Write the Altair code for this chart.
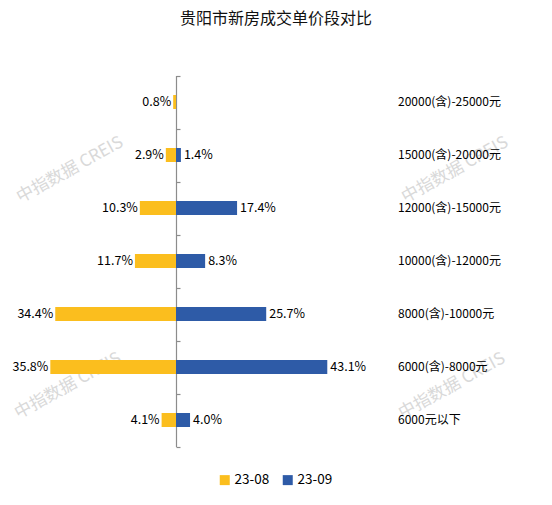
import altair as alt
import pandas as pd

title_text = "贵阳市新房成交单价段对比"
categories = ["20000(含)-25000元", "15000(含)-20000元", "12000(含)-15000元",
              "10000(含)-12000元", "8000(含)-10000元", "6000(含)-8000元", "6000元以下"]
series_names = ["23-08", "23-09"]
aug_values = [0.8, 2.9, 10.3, 11.7, 34.4, 35.8, 4.1]
sep_values = [None, 1.4, 17.4, 8.3, 25.7, 43.1, 4.0]
colors = ["#FBBE1E", "#2E5BA7"]
watermark = "中指数据 CREIS"

rows = []
for c, a, s in zip(categories, aug_values, sep_values):
    if a is not None:
        rows.append({"cat": c, "series": "23-08", "v": a, "x": -a, "label": f"{a:.1f}%"})
    if s is not None:
        rows.append({"cat": c, "series": "23-09", "v": s, "x": s, "label": f"{s:.1f}%"})
df = pd.DataFrame(rows)
cat_df = pd.DataFrame({"cat": categories})

W, H = 536, 489
FONT = "Noto Sans CJK SC"

xscale = alt.Scale(domain=[-47.86, 104.84], nice=False, zero=False)
yscale = alt.Scale(domain=categories, range=[67.5, 438.5], paddingInner=0, paddingOuter=0)

base = alt.Chart(df)

bars = base.mark_bar(size=14).encode(
    x=alt.X("x:Q", scale=xscale, axis=None),
    y=alt.Y("cat:N", scale=yscale, sort=categories,
            axis=alt.Axis(orient="right", offset=-368, labels=False, title="",
                          ticks=True, tickBand="extent", tickSize=4,
                          domainColor="#8c8c8c", tickColor="#8c8c8c",
                          domainWidth=1.2, tickWidth=1.2, grid=False)),
    color=alt.Color("series:N", scale=alt.Scale(domain=series_names, range=colors),
                    title=None,
                    legend=alt.Legend(orient="none", legendX=210, legendY=465,
                                      direction="horizontal", symbolType="square",
                                      symbolSize=100, symbolStrokeWidth=0,
                                      labelFontSize=13.5, labelFont=FONT,
                                      labelColor="#000000", padding=0,
                                      columnPadding=11, labelOffset=3)),
)

left_labels = base.transform_filter(alt.datum.series == "23-08").mark_text(
    align="right", baseline="middle", dx=-2, fontSize=12.5, font=FONT, color="#000000"
).encode(
    x=alt.X("x:Q", scale=xscale, axis=None),
    y=alt.Y("cat:N", scale=yscale, sort=categories),
    text="label:N",
)

right_labels = base.transform_filter(alt.datum.series == "23-09").mark_text(
    align="left", baseline="middle", dx=3, fontSize=12.5, font=FONT, color="#000000"
).encode(
    x=alt.X("x:Q", scale=xscale, axis=None),
    y=alt.Y("cat:N", scale=yscale, sort=categories),
    text="label:N",
)

cat_labels = alt.Chart(cat_df).mark_text(
    align="left", baseline="middle", fontSize=12, font=FONT, color="#000000"
).encode(
    x=alt.value(390),
    y=alt.Y("cat:N", scale=yscale, sort=categories),
    text="cat:N",
)

title_mark = alt.Chart(pd.DataFrame({"t": [title_text]})).mark_text(
    align="center", baseline="middle", fontSize=16, font=FONT, color="#111111"
).encode(x=alt.value(268), y=alt.value(11), text="t:N")

wm_df = pd.DataFrame({"t": [watermark]})
def wm(px, py):
    return alt.Chart(wm_df).mark_text(
        align="center", baseline="middle", fontSize=17, font=FONT,
        fontWeight="normal", color="#d9d9d9", angle=331
    ).encode(x=alt.value(px), y=alt.value(py), text="t:N")

watermarks = [wm(62, 162), wm(447, 162), wm(60, 378), wm(444, 378)]

chart = alt.layer(
    *watermarks, bars, left_labels, right_labels, cat_labels, title_mark
).properties(
    width=W, height=H, padding=0, autosize=alt.AutoSizeParams(type="none")
).configure_view(strokeWidth=0)

chart.save("out.html", embed_options={"renderer": "svg", "actions": False})
